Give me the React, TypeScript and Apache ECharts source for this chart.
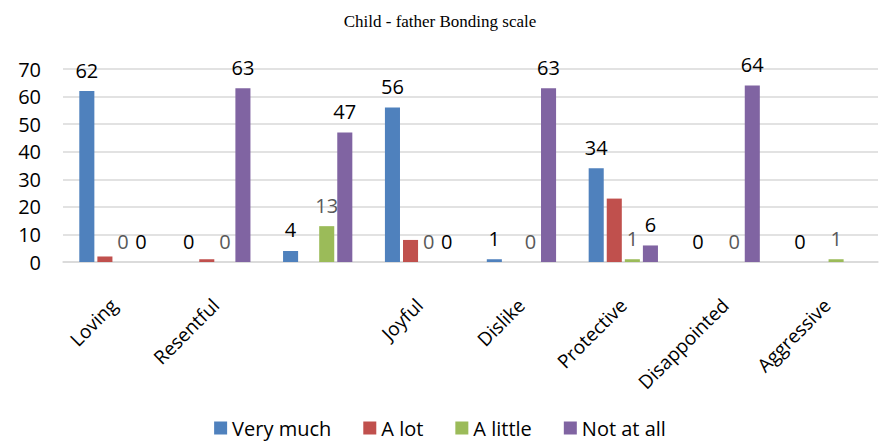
import React, { useEffect, useRef } from "react";
import * as echarts from "echarts";

const categories = ["Loving", "Resentful", "", "Joyful", "Dislike", "Protective", "Disappointed", "Aggressive"];
const veryMuch = [62, 0, 4, 56, 1, 34, 0, 0];
const aLot = [2, 1, 0, 8, 0, 23, 0, 0];
const aLittle = [0, 0, 13, 0, 0, 1, 0, 1];
const notAtAll: (number | null)[] = [0, 63, 47, 0, 63, 6, 64, null];
const yTicks = { min: 0, max: 70, interval: 10 };

const FONT = "'Open Sans', 'Noto Sans', sans-serif";

export default function App() {
  const ref = useRef<HTMLDivElement>(null);
  useEffect(() => {
    if (!ref.current) return;
    const chart = echarts.init(ref.current, null, { renderer: "svg" });
    const lbl = (color: string) => ({
      show: true,
      position: "top" as const,
      distance: 11,
      color,
      fontSize: 20,
      fontFamily: FONT,
    });
    chart.setOption({
      animation: false,
      backgroundColor: "#ffffff",
      title: {
        text: "Child - father Bonding scale",
        left: "center",
        top: 8,
        textStyle: { fontFamily: "'Liberation Serif', 'DejaVu Serif', serif", fontSize: 17, fontWeight: "normal", color: "#000" },
      },
      legend: {
        bottom: 0,
        left: "center",
        icon: "rect",
        itemWidth: 13,
        itemHeight: 13,
        itemGap: 32,
        itemTextGap: 8,
        textStyle: { fontFamily: FONT, fontSize: 20, color: "#000" },
        data: ["Very much", "A lot", "A little", "Not at all"],
      },
      grid: { left: 63, right: 2, top: 69, bottom: 181, containLabel: false },
      xAxis: {
        type: "category",
        data: categories,
        axisLine: { show: true, lineStyle: { color: "#D9D9D9", width: 1.5 } },
        axisTick: { show: false },
        axisLabel: {
          rotate: 45,
          margin: 40,
          interval: 0,
          color: "#000",
          fontSize: 19,
          fontFamily: FONT,
        },
      },
      yAxis: {
        type: "value",
        min: yTicks.min,
        max: yTicks.max,
        interval: yTicks.interval,
        axisLine: { show: false },
        axisTick: { show: false },
        splitLine: { lineStyle: { color: "#D9D9D9", width: 1.5 } },
        axisLabel: { color: "#000", fontSize: 20, fontFamily: FONT, margin: 22 },
      },
      series: [
        { name: "Very much", type: "bar", data: veryMuch, itemStyle: { color: "#4F81BD" }, label: lbl("#000"), barGap: "20%", barCategoryGap: "32%" },
        { name: "A lot", type: "bar", data: aLot, itemStyle: { color: "#C0504D" }, label: { show: false } },
        { name: "A little", type: "bar", data: aLittle, itemStyle: { color: "#9BBB59" }, label: lbl("#595959") },
        { name: "Not at all", type: "bar", data: notAtAll, itemStyle: { color: "#8064A2" }, label: lbl("#000") },
      ],
    });
    return () => chart.dispose();
  }, []);
  return <div ref={ref} style={{ width: 880, height: 443, position: "absolute", left: 0, top: 0 }} />;
}
